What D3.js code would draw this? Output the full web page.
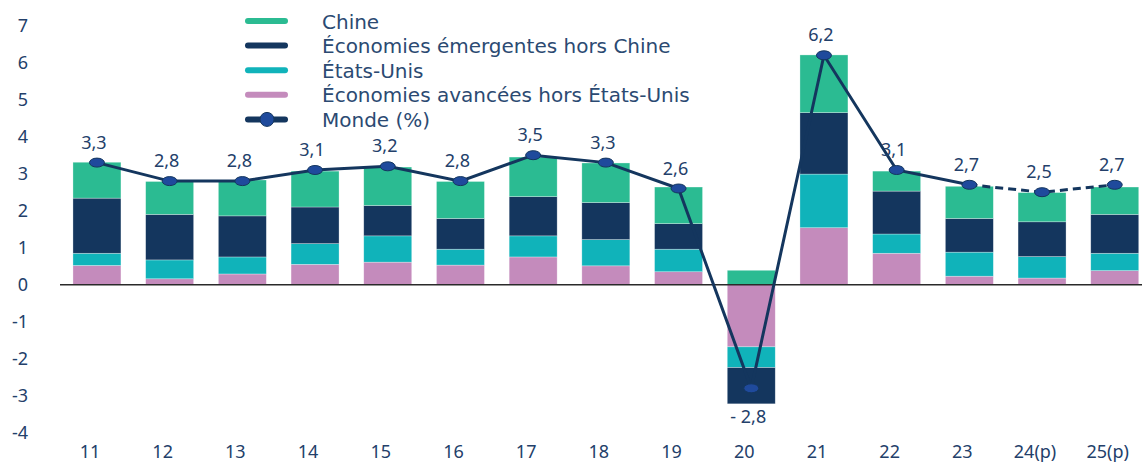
<html>
<head>
<meta charset="utf-8">
<title>Croissance mondiale</title>
<script src="https://d3js.org/d3.v7.min.js"></script>
<style>
  body { margin: 0; background: #fff; }
  svg { display: block; font-family: "Noto Sans", sans-serif; }
  .tick-label { fill: #23406a; font-size: 18px; }
  .legend-label { fill: #2b4a72; font-size: 20px; font-family: "DejaVu Sans", sans-serif; }
  .data-label { fill: #23406a; font-size: 18px; }
</style>
</head>
<body>
<svg width="1142" height="463"></svg>
<script>
// categories (years) and series
var years = ["11","12","13","14","15","16","17","18","19","20","21","22","23","24(p)","25(p)"];
var avancees = [0.52,0.16,0.29,0.55,0.61,0.53,0.75,0.51,0.35,-1.68,1.54,0.85,0.23,0.18,0.38];
var etatsUnis = [0.33,0.51,0.46,0.56,0.71,0.43,0.57,0.71,0.61,-0.56,1.45,0.52,0.65,0.58,0.47];
var emergentes = [1.49,1.23,1.11,0.99,0.82,0.83,1.06,1.00,0.69,-0.98,1.66,1.16,0.91,0.94,1.05];
var chine = [0.97,0.89,0.97,0.97,1.04,1.00,1.07,1.07,0.99,0.39,1.56,0.54,0.87,0.79,0.74];
var monde = [3.3,2.8,2.8,3.1,3.2,2.8,3.5,3.3,2.6,-2.8,6.2,3.1,2.7,2.5,2.7];
var mondeLabels = ["3,3","2,8","2,8","3,1","3,2","2,8","3,5","3,3","2,6","- 2,8","6,2","3,1","2,7","2,5","2,7"];
var yTicks = [-4,-3,-2,-1,0,1,2,3,4,5,6,7];

var keys = ["avancees","etatsUnis","emergentes","chine"];
var colors = {chine:"#2bbb92", emergentes:"#14365e", etatsUnis:"#10b3ba", avancees:"#c48bbc"};
var lineColor = "#14365e", markerFill = "#1f4a9c";

var rows = years.map(function(y, i) {
  return {year:y, avancees:avancees[i], etatsUnis:etatsUnis[i], emergentes:emergentes[i], chine:chine[i], monde:monde[i], label:mondeLabels[i]};
});

var svg = d3.select("svg");
var step = 72.7;
var x = d3.scaleBand().domain(years).range([60.6, 60.6 + step*years.length]).paddingInner(0.34).paddingOuter(0.17);
var y = d3.scaleLinear().domain([-4,7]).range([432.7,25.7]);
var cx = function(d) { return x(d) + x.bandwidth()/2; };

// stacked bars (negatives stacked downward)
var stack = d3.stack().keys(keys).offset(d3.stackOffsetDiverging);
var series = stack(rows);

svg.append("g").selectAll("g")
  .data(series)
  .enter().append("g")
  .attr("fill", function(s) { return colors[s.key]; })
  .selectAll("rect")
  .data(function(s) { return s; })
  .enter().append("rect")
  .attr("x", function(d) { return x(d.data.year); })
  .attr("y", function(d) { return y(Math.max(d[0], d[1])); })
  .attr("width", x.bandwidth())
  .attr("height", function(d) { return Math.abs(y(d[0]) - y(d[1])); })
  .attr("stroke", "#ffffff")
  .attr("stroke-opacity", 0.5)
  .attr("stroke-width", 0.6);

// y axis labels
svg.append("g").selectAll("text")
  .data(yTicks)
  .enter().append("text")
  .attr("class", "tick-label")
  .attr("x", 28)
  .attr("y", function(d) { return y(d) + 6.5; })
  .attr("text-anchor", "end")
  .text(function(d) { return d; });

// zero line
svg.append("line")
  .attr("x1", 60).attr("x2", 1142)
  .attr("y1", y(0)).attr("y2", y(0))
  .attr("stroke", "#2a2a2a").attr("stroke-width", 1.6);

// x labels
svg.append("g").selectAll("text")
  .data(years)
  .enter().append("text")
  .attr("class", "tick-label")
  .attr("x", function(d) { return cx(d) - 7; })
  .attr("y", 458)
  .attr("text-anchor", "middle")
  .text(function(d) { return d; });

// world line: solid until 23, dashed after
var line = d3.line()
  .x(function(d) { return cx(d.year); })
  .y(function(d) { return y(d.monde); });

svg.append("path")
  .datum(rows.slice(0, 13))
  .attr("d", line)
  .attr("fill", "none")
  .attr("stroke", lineColor)
  .attr("stroke-width", 3);

svg.append("path")
  .datum(rows.slice(12))
  .attr("d", line)
  .attr("fill", "none")
  .attr("stroke", lineColor)
  .attr("stroke-width", 3)
  .attr("stroke-dasharray", "8,5");

svg.append("g").selectAll("ellipse")
  .data(rows)
  .enter().append("ellipse")
  .attr("cx", function(d) { return cx(d.year); })
  .attr("cy", function(d) { return y(d.monde); })
  .attr("rx", 7.5).attr("ry", 4.5)
  .attr("fill", markerFill)
  .attr("stroke", lineColor)
  .attr("stroke-width", 1);

svg.append("g").selectAll("text")
  .data(rows)
  .enter().append("text")
  .attr("class", "data-label")
  .attr("x", function(d) { return cx(d.year) - 3; })
  .attr("y", function(d) { return d.monde < 0 ? y(-3.2) + 20 : y(d.monde) - 14; })
  .attr("text-anchor", "middle")
  .text(function(d) { return d.label; });

// legend
var legendItems = [
  {name:"Chine", color:colors.chine},
  {name:"Économies émergentes hors Chine", color:colors.emergentes},
  {name:"États-Unis", color:colors.etatsUnis},
  {name:"Économies avancées hors États-Unis", color:colors.avancees},
  {name:"Monde (%)", color:lineColor, marker:true}
];
var lg = svg.append("g").selectAll("g")
  .data(legendItems)
  .enter().append("g")
  .attr("transform", function(d, i) { return "translate(0," + (21 + i*24.6) + ")"; });

lg.append("line")
  .attr("x1", 248).attr("x2", 285)
  .attr("stroke", function(d) { return d.color; })
  .attr("stroke-width", 6)
  .attr("stroke-linecap", "round");

lg.filter(function(d) { return d.marker; })
  .append("circle")
  .attr("cx", 267).attr("r", 7)
  .attr("fill", markerFill)
  .attr("stroke", lineColor)
  .attr("stroke-width", 1);

lg.append("text")
  .attr("class", "legend-label")
  .attr("x", 322)
  .attr("y", 7.5)
  .text(function(d) { return d.name; });
</script>
</body>
</html>
